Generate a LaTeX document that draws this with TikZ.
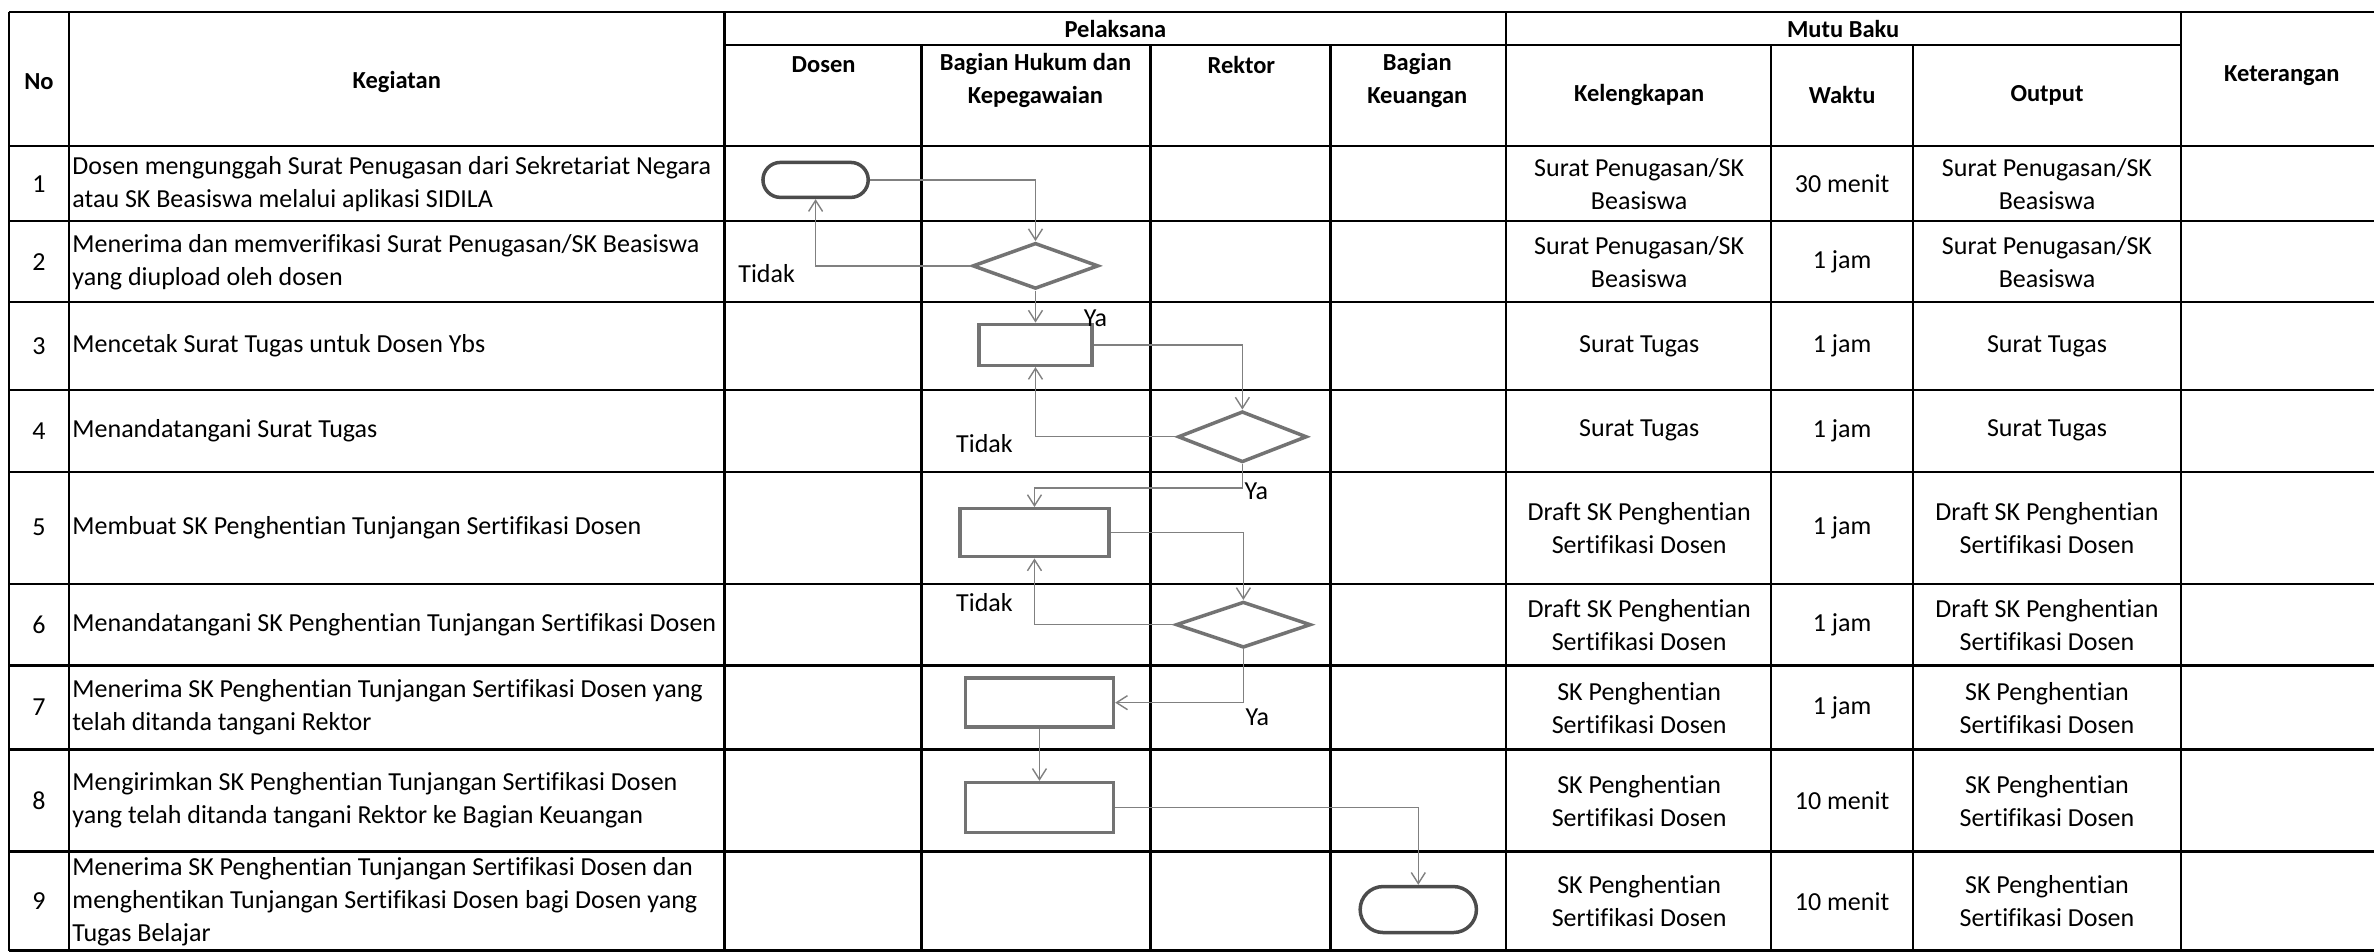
\documentclass[tikz,border=0pt]{standalone}
\usepackage{fontspec}
\setmainfont{Carlito}[Ligatures=NoCommon]
\usetikzlibrary{arrows.meta,shapes.geometric,shapes.misc}

\begin{document}
\begin{tikzpicture}[x=1pt, y=-1pt, font=\fontsize{26}{33}\selectfont,
        grid/.style = {line width=2.4pt, black},
        head/.style = {font=\fontsize{24.5}{33}\selectfont\bfseries, align=center},
        cell/.style = {align=center},
        task/.style = {align=left, anchor=west},
        proc/.style = {rectangle, draw=black!55, line width=3.5pt},
        term/.style = {rounded rectangle, draw=black!70, line width=3.5pt},
        decide/.style = {diamond, draw=black!55, line width=3.5pt, inner sep=0pt},
        flow/.style = {draw=black!50, line width=1.4pt, -{Straight Barb[length=11pt, width=14pt]}}]

        \fill[white] (0,0) rectangle (2375,952);

        % garis tabel
        \draw[grid] (9,12) -- (2375,12);
        \draw[grid] (725,45) -- (2182,45);
        \foreach \y in {146,221,302,390,472,584,666,750,852,951}
            \draw[grid] (9,\y) -- (2375,\y);
        \foreach \x in {9,69,725,1507,2182}
            \draw[grid] (\x,12) -- (\x,951);
        \foreach \x in {922,1151,1331,1772,1914}
            \draw[grid] (\x,45) -- (\x,951);

        % kepala tabel
        \node[head] (no) at (39,82) {No};
        \node[head] (keg) at (397,82) {Kegiatan};
        \node[head] (pel) at (1116,29) {Pelaksana};
        \node[head] (dos) at (824,65) {Dosen};
        \node[head] (bhk) at (1036,81) {Bagian Hukum dan\\Kepegawaian};
        \node[head] (rek) at (1242,65) {Rektor};
        \node[head] (bku) at (1418,81) {Bagian\\Keuangan};
        \node[head] (mutu) at (1844,29) {Mutu Baku};
        \node[head] (kel) at (1640,95) {Kelengkapan};
        \node[head] (wak) at (1843,95) {Waktu};
        \node[head] (out) at (2048,95) {Output};
        \node[head] (ket) at (2283,76) {Keterangan};

        % isi baris
        \foreach \n/\y/\keg/\kel/\wak in {
            1/184/{Dosen mengunggah Surat Penugasan dari Sekretariat Negara\\atau SK Beasiswa melalui aplikasi SIDILA}/{Surat Penugasan/SK\\Beasiswa}/30 menit,
            2/262/{Menerima dan memverifikasi Surat Penugasan/SK Beasiswa\\yang diupload oleh dosen}/{Surat Penugasan/SK\\Beasiswa}/1 jam,
            3/346/{Mencetak Surat Tugas untuk Dosen Ybs}/{Surat Tugas}/1 jam,
            4/431/{Menandatangani Surat Tugas}/{Surat Tugas}/1 jam,
            5/528/{Membuat SK Penghentian Tunjangan Sertifikasi Dosen}/{Draft SK Penghentian\\Sertifikasi Dosen}/1 jam,
            6/625/{Menandatangani SK Penghentian Tunjangan Sertifikasi Dosen}/{Draft SK Penghentian\\Sertifikasi Dosen}/1 jam,
            7/708/{Menerima SK Penghentian Tunjangan Sertifikasi Dosen yang\\telah ditanda tangani Rektor}/{SK Penghentian\\Sertifikasi Dosen}/1 jam,
            8/801/{Mengirimkan SK Penghentian Tunjangan Sertifikasi Dosen\\yang telah ditanda tangani Rektor ke Bagian Keuangan}/{SK Penghentian\\Sertifikasi Dosen}/10 menit,
            9/902/{Menerima SK Penghentian Tunjangan Sertifikasi Dosen dan\\menghentikan Tunjangan Sertifikasi Dosen bagi Dosen yang\\Tugas Belajar}/{SK Penghentian\\Sertifikasi Dosen}/10 menit}
        {
            \node (no\n) at (39,\y) {\n};
            \node[task] (keg\n) at (69,\y) {\keg};
            \node[cell] (kel\n) at (1640,\y) {\kel};
            \node[cell] (wak\n) at (1843,\y) {\wak};
            \node[cell] (out\n) at (2048,\y) {\kel};
        }

        % bagan alur
        \node[term, minimum width=112pt, minimum height=35pt] (mulai) at (816,180) {};
        \node[decide, minimum width=126pt, minimum height=46pt] (cek) at (1036,266) {};
        \node[proc, minimum width=113pt, minimum height=41pt] (cetak) at (1036,345) {};
        \node[decide, minimum width=129pt, minimum height=51pt] (ttd1) at (1243,437) {};
        \node[proc, minimum width=149pt, minimum height=48pt] (buat) at (1035,533) {};
        \node[decide, minimum width=135pt, minimum height=46pt] (ttd2) at (1244,625) {};
        \node[proc, minimum width=148pt, minimum height=49pt] (terima) at (1040,703) {};
        \node[proc, minimum width=148pt, minimum height=50pt] (kirim) at (1040,808) {};
        \node[term, minimum width=123pt, minimum height=46pt] (selesai) at (1419,910) {};

        \draw[flow] (mulai.east) -| (cek.north);
        \draw[flow] (cek.west) -| (mulai.south);
        \draw[flow] (cek.south) -- (cetak.north);
        \draw[flow] (cetak.east) -| (ttd1.north);
        \draw[flow] (ttd1.west) -| (cetak.south);
        \draw[flow] (ttd1.south) -- ++(0,24) -| (buat.north);
        \draw[flow] (buat.east) -| (ttd2.north);
        \draw[flow] (ttd2.west) -| (buat.south);
        \draw[flow] (ttd2.south) |- (terima.east);
        \draw[flow] (terima.south) -- (kirim.north);
        \draw[flow] (kirim.east) -| (selesai.north);

        \node (tdk1) at (767,274) {Tidak};
        \node (ya1) at (1096,318) {Ya};
        \node (tdk2) at (985,444) {Tidak};
        \node (ya2) at (1257,492) {Ya};
        \node (tdk3) at (985,603) {Tidak};
        \node (ya3) at (1258,718) {Ya};

    \end{tikzpicture}
\end{document}
